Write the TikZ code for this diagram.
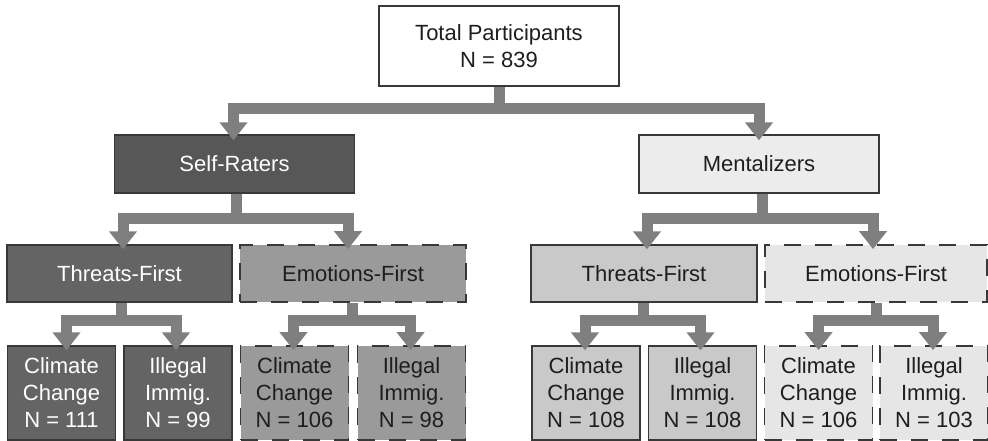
\documentclass[tikz,border=0pt]{standalone}
\usepackage{fontspec}
\setmainfont{Liberation Sans}
\usetikzlibrary{arrows.meta}
\definecolor{bordc}{HTML}{383838}
\definecolor{srfill}{HTML}{575757}
\definecolor{tfsrfill}{HTML}{646464}
\definecolor{efsrfill}{HTML}{9A9A9A}
\definecolor{mfill}{HTML}{ECECEC}
\definecolor{tfmfill}{HTML}{C9C9C9}
\definecolor{efmfill}{HTML}{E6E6E6}
\definecolor{flowc}{HTML}{7F7F7F}
\definecolor{darktext}{HTML}{1E1E1E}
\tikzset{
  box/.style={draw=bordc, line width=1.4pt, inner sep=0pt, align=center,
    font=\fontsize{22}{27}\selectfont, text=darktext},
  solidbox/.style={box},
  dashbox/.style={box, line width=1.8pt, dash pattern=on 17pt off 14pt},
  lvltop/.style={minimum width=240pt, minimum height=80pt, fill=white},
  lvlone/.style={minimum width=240pt, minimum height=58pt},
  lvltwo/.style={minimum width=225pt, minimum height=57pt},
  leaf/.style={minimum width=108pt, minimum height=94pt},
  flow/.style={draw=flowc, line width=11pt, line join=miter,
    -{Triangle[width=27pt,length=18pt]}},
}
\begin{document}
\begin{tikzpicture}[x=1pt,y=-1pt]
\useasboundingbox (0,0) rectangle (988,441);
% level 0
\node[solidbox, lvltop] (top) at (499,46) {Total Participants\\N = 839};
% level 1
\node[solidbox, lvlone, fill=srfill, text=white] (sr) at (234.5,164) {Self-Raters};
\node[solidbox, lvlone, fill=mfill] (mz) at (759,164) {Mentalizers};
% level 2
\node[solidbox, lvltwo, fill=tfsrfill, text=white] (tfsr) at (119.5,273.5) {Threats-First};
\node[dashbox, lvltwo, minimum width=226pt, fill=efsrfill] (efsr) at (353,273.5) {Emotions-First};
\node[solidbox, lvltwo, minimum width=226pt, fill=tfmfill] (tfm) at (644,273.5) {Threats-First};
\node[dashbox, lvltwo, minimum width=222pt, fill=efmfill] (efm) at (876,273.5) {Emotions-First};
% level 3
\node[solidbox, leaf, fill=tfsrfill, text=white] (sra) at (61.5,393) {Climate\\Change\\N = 111};
\node[solidbox, leaf, fill=tfsrfill, text=white] (srb) at (178,393) {Illegal\\Immig.\\N = 99};
\node[dashbox, leaf, fill=efsrfill] (src) at (294.5,393) {Climate\\Change\\N = 106};
\node[dashbox, leaf, fill=efsrfill] (srd) at (411.5,393) {Illegal\\Immig.\\N = 98};
\node[solidbox, leaf, fill=tfmfill] (mza) at (586,393) {Climate\\Change\\N = 108};
\node[solidbox, leaf, fill=tfmfill] (mzb) at (702.5,393) {Illegal\\Immig.\\N = 108};
\node[dashbox, leaf, fill=efmfill] (mzc) at (818.5,393) {Climate\\Change\\N = 106};
\node[dashbox, leaf, fill=efmfill] (mzd) at (934,393) {Illegal\\Immig.\\N = 103};
% connectors
\draw[flow] (top.south) -- ++(0,22) -| ([xshift=-1pt,yshift=-6pt]sr.north);
\draw[flow] (top.south) -- ++(0,22) -| ([yshift=-6pt]mz.north);
\draw[flow] ([xshift=1.5pt]sr.south) -- ++(0,24.5) -| ([xshift=3.5pt,yshift=-5pt]tfsr.north);
\draw[flow] ([xshift=1.5pt]sr.south) -- ++(0,24.5) -| ([xshift=-5pt,yshift=-5pt]efsr.north);
\draw[flow] ([xshift=3pt]mz.south) -- ++(0,24.5) -| ([xshift=3pt,yshift=-5pt]tfm.north);
\draw[flow] ([xshift=3pt]mz.south) -- ++(0,24.5) -| ([xshift=-3pt,yshift=-5pt]efm.north);
\draw[flow] ([xshift=1.5pt]tfsr.south) -- ++(0,18) -| ([xshift=5pt,yshift=-5pt]sra.north);
\draw[flow] ([xshift=1.5pt]tfsr.south) -- ++(0,18) -| ([xshift=-2pt,yshift=-5pt]srb.north);
\draw[flow] ([xshift=-1pt]efsr.south) -- ++(0,18) -| ([xshift=-1pt,yshift=-5pt]src.north);
\draw[flow] ([xshift=-1pt]efsr.south) -- ++(0,18) -| ([xshift=-1pt,yshift=-5pt]srd.north);
\draw[flow] ([xshift=-1pt]tfm.south) -- ++(0,18) -| ([xshift=-1pt,yshift=-5pt]mza.north);
\draw[flow] ([xshift=-1pt]tfm.south) -- ++(0,18) -| ([xshift=-2pt,yshift=-5pt]mzb.north);
\draw[flow] (efm.south) -- ++(0,18) -| ([yshift=-5pt]mzc.north);
\draw[flow] (efm.south) -- ++(0,18) -| ([xshift=-1pt,yshift=-5pt]mzd.north);
\end{tikzpicture}
\end{document}
